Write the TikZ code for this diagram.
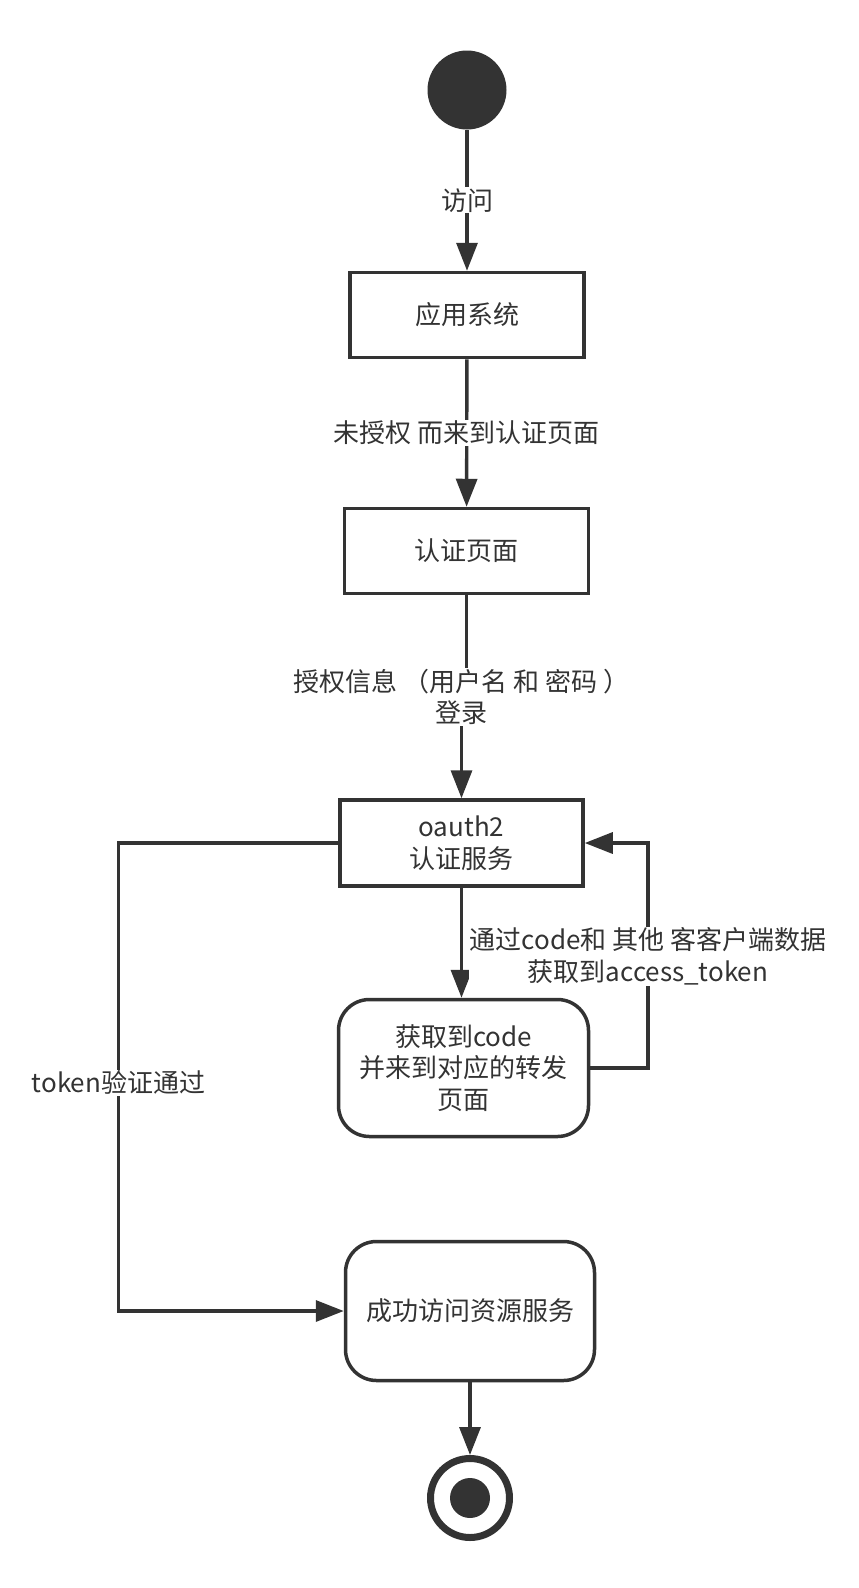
\documentclass[tikz,border=0pt]{standalone}
\usepackage{fontspec}
\setmainfont{Noto Sans CJK SC}
\usetikzlibrary{arrows.meta}
\definecolor{myDarkGray}{RGB}{51,51,51}

\begin{document}
\begin{tikzpicture}[%
    x=1pt, y=-1pt,
    every node/.style={
        font=\fontsize{26}{31.5}\selectfont,
        text=myDarkGray,
    },
    box/.style={draw=myDarkGray, line width=3.5pt, align=center},
    roundbox/.style={box, rounded corners=31pt},
    flow/.style={draw=myDarkGray, line width=3.4pt, -{Triangle[length=28pt,width=21pt]}},
    lbl/.style={fill=white, inner sep=1pt, align=center},
]
% fix the page size
\useasboundingbox (0,0) rectangle (859,1588);

% start and end states
\node[circle, fill=myDarkGray, minimum size=79pt, inner sep=0pt] (start) at (467,90) {};
\node[circle, draw=myDarkGray, line width=7pt, minimum size=79pt, inner sep=0pt] (end) at (470,1498) {};
\node[circle, fill=myDarkGray, minimum size=40pt, inner sep=0pt] (endin) at (470,1498) {};

% draw the boxes
\node[box, minimum width=234pt, minimum height=85pt] (app) at (467,315) {应用系统};
\node[box, minimum width=244pt, minimum height=85pt] (authpage) at (466.5,551) {认证页面};
\node[box, minimum width=243pt, minimum height=86pt] (oauth) at (461.5,843) {oauth2\\认证服务};
\node[roundbox, minimum width=250pt, minimum height=137pt] (code) at (463.5,1068) {获取到code\\并来到对应的转发\\页面};
\node[roundbox, minimum width=249pt, minimum height=139pt] (success) at (470,1311) {成功访问资源服务};

% helper coordinates for the side lines
\coordinate (loopR) at (648,0);
\coordinate (loopL) at (118.5,0);
\path (authpage.south) -- (oauth.north) coordinate[midway] (loginmid);

% draw the main flow
\draw[flow] (start) -- (app) node[lbl, midway] {访问};
\draw[flow] (app) -- (authpage) node[lbl, midway] {未授权 而来到认证页面};
\draw[flow] (authpage.south) -- (authpage.south |- loginmid) -- (oauth.north |- loginmid)
    node[lbl] {授权信息 （用户名 和 密码 ）\\登录}
    -- (oauth.north);
\draw[flow] (oauth.south) -- (oauth.south |- code.north);

% back to the auth service
\draw[flow] (code.east) -| (loopR |- oauth.east)
    node[lbl, pos=0.748] {通过code和 其他 客客户端数据\\获取到access\_token}
    -- (oauth.east);

% token checked
\draw[flow] (oauth.west) -| (loopL |- success.west)
    node[lbl, pos=0.756] {token验证通过}
    -- (success.west);

\draw[flow] (success) -- (end);

\end{tikzpicture}
\end{document}
